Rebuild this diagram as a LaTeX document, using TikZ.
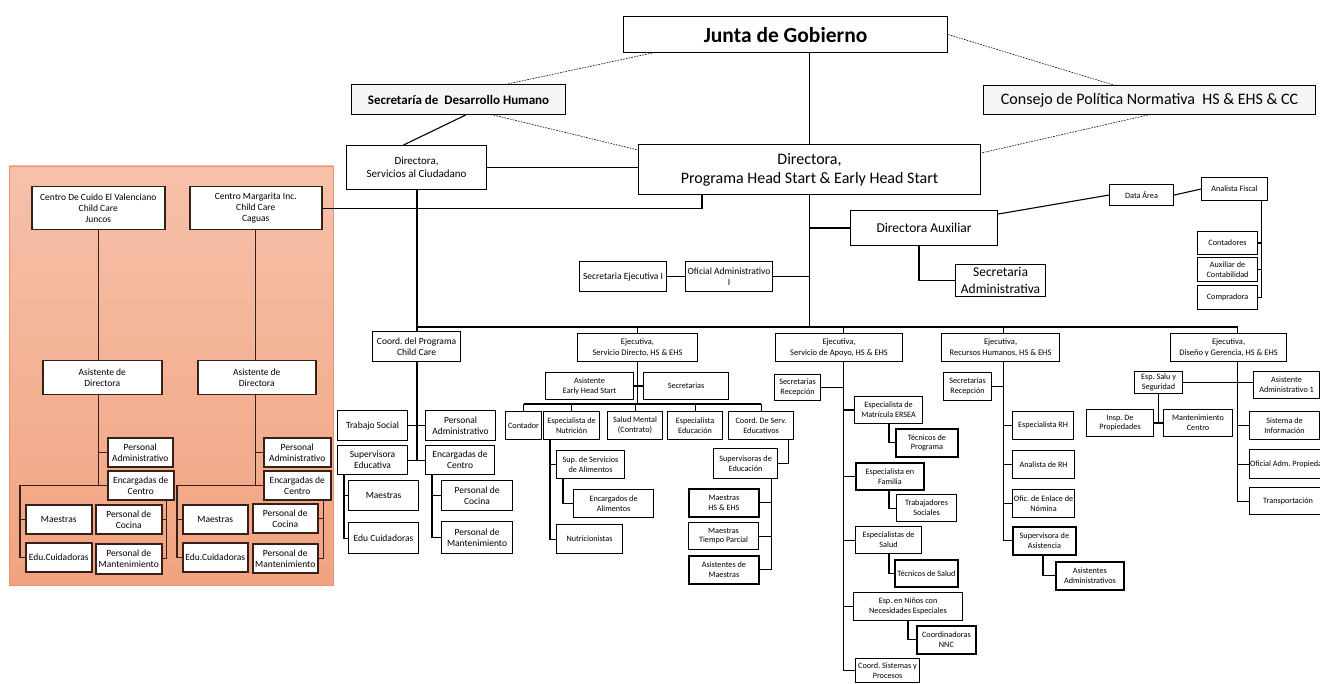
\documentclass[tikz,border=0pt]{standalone}
\usepackage{fontspec}
\setmainfont{Carlito}
\usetikzlibrary{calc}

\definecolor{panelTop}{RGB}{246,193,170}
\definecolor{panelBot}{RGB}{241,163,128}
\definecolor{panelRim}{RGB}{230,148,112}
\definecolor{cboxRim}{RGB}{55,32,24}

\tikzset{
  box/.style={draw=black, line width=1.1pt, fill=white, inner sep=0.5pt, align=center, anchor=north west},
  board/.style={fill=gray!8},
  heavy/.style={line width=1.8pt},
  cbox/.style={draw=cboxRim, line width=1.5pt},
  link/.style={line width=1.1pt},
  heavylink/.style={line width=1.9pt},
  clink/.style={draw=cboxRim, line width=1.2pt},
  dotlink/.style={line width=0.6pt, dash pattern=on 1.6pt off 1.2pt},
  ftitle/.style={font=\fontsize{21.5}{24}\selectfont\bfseries},
  fboard/.style={font=\fontsize{13}{15}\selectfont\bfseries},
  flarge/.style={font=\fontsize{16}{19}\selectfont},
  fsub/.style={font=\fontsize{13.5}{17}\selectfont},
  fsac/.style={font=\fontsize{11}{13}\selectfont},
  fmed/.style={font=\fontsize{9.5}{11}\selectfont},
  fexec/.style={font=\fontsize{8.5}{10.5}\selectfont},
  fsmall/.style={font=\fontsize{8.2}{9.8}\selectfont}
}

% box from its top left corner (x1,y1) to its bottom right corner (x2,y2)
\newcommand{\orgbox}[7][]{%
  \node[box,#1,minimum width={#5-#3},minimum height={#6-#4}] (#2) at (#3,#4) {#7};}

\begin{document}
\frenchspacing
\begin{tikzpicture}[x=1pt,y=-1pt]
  \useasboundingbox (0,0) rectangle (1320,684);
  \clip (0,0) rectangle (1320,684);
  \fill[white] (0,0) rectangle (1320,684);
  %
  % child care centres panel
  \shade[top color=panelTop, bottom color=panelBot] (9,166) rectangle (333,585);
  \draw[panelRim, line width=0.8pt] (9,166) rectangle (333,585);
  %
  % boards and direction
  \orgbox[ftitle]{jgob}{623}{16}{947}{52}{Junta de Gobierno}
  \orgbox[board,fboard]{sdh}{351}{84}{565}{114}{Secretaría de\ \ Desarrollo Humano}
  \orgbox[board,flarge]{cpn}{983}{85}{1315}{114}{Consejo de Política Normativa\ \ HS \& EHS \& CC}
  \orgbox[fsac]{sac}{346}{145}{486}{189}{Directora,\\Servicios al Ciudadano}
  \orgbox[flarge]{dhs}{638}{144}{980}{194}{Directora,\\Programa Head Start \& Early Head Start}
  \orgbox[fsub]{daux}{850}{210}{997}{245}{Directora Auxiliar}
  \orgbox[fsub]{sadm}{955}{264}{1045}{296}{Secretaria\\Administrativa}
  \orgbox[fsmall]{data}{1109}{184}{1173}{205}{Data Área}
  \orgbox[fsmall]{anfis}{1201}{177}{1267}{200}{Analista Fiscal}
  \orgbox[fsmall]{cont}{1197}{231}{1257}{254}{Contadores}
  \orgbox[fsmall]{auxc}{1197}{257}{1257}{281}{Auxiliar de\\Contabilidad}
  \orgbox[fsmall]{compr}{1197}{285}{1257}{309}{Compradora}
  \orgbox[fmed]{sej}{579}{261}{666}{291}{Secretaria Ejecutiva I}
  \orgbox[fmed]{ofadm}{685}{261}{772}{291}{Oficial Administrativo\\I}
  %
  % executives
  \orgbox[fmed]{coord}{372}{331}{460}{361}{Coord. del Programa\\Child Care}
  \orgbox[fexec]{esd}{577}{333}{697}{361}{Ejecutiva,\\Servicio Directo, HS \& EHS}
  \orgbox[fexec]{esa}{775}{333}{902}{361}{Ejecutiva,\\Servicio de Apoyo, HS \& EHS}
  \orgbox[fexec]{erh}{941}{333}{1059}{361}{Ejecutiva,\\Recursos Humanos, HS \& EHS}
  \orgbox[fexec]{edg}{1170}{333}{1286}{361}{Ejecutiva,\\Diseño y Gerencia, HS \& EHS}
  %
  % child care programme
  \orgbox[fmed]{tsoc}{337}{410}{407}{440}{Trabajo Social}
  \orgbox[fmed]{padm}{425}{410}{495}{440}{Personal\\Administrativo}
  \orgbox[fmed]{supe}{337}{445}{407}{474}{Supervisora\\Educativa}
  \orgbox[fmed]{encc}{425}{445}{494}{474}{Encargadas de\\Centro}
  \orgbox[fmed]{maes}{348}{480}{418}{510}{Maestras}
  \orgbox[fmed]{educ}{348}{522}{418}{553}{Edu Cuidadoras}
  \orgbox[fmed]{pcoc}{441}{480}{512}{510}{Personal de\\Cocina}
  \orgbox[fmed]{pman}{441}{521}{512}{553}{Personal de\\Mantenimiento}
  %
  % servicio directo
  \orgbox[fsmall]{aehs}{545}{372}{633}{399}{Asistente\\Early Head Start}
  \orgbox[fsmall]{secr}{643}{372}{728}{399}{Secretarias}
  \orgbox[fsmall]{cont2}{505}{411}{541}{439}{Contador}
  \orgbox[fsmall]{enut}{543}{411}{599}{439}{Especialista de\\Nutrición}
  \orgbox[fsmall]{smen}{607}{411}{662}{439}{Salud Mental\\(Contrato)}
  \orgbox[fsmall]{eedu}{667}{411}{722}{439}{Especialista\\Educación}
  \orgbox[fsmall]{cse}{728}{411}{793}{439}{Coord. De Serv.\\Educativos}
  \orgbox[fsmall]{ssa}{556}{450}{624}{478}{Sup. de Servicios\\de Alimentos}
  \orgbox[fsmall]{eali}{573}{489}{653}{517}{Encargados de\\Alimentos}
  \orgbox[fsmall]{nutr}{556}{524}{622}{553}{Nutricionistas}
  \orgbox[fsmall]{supd}{713}{448}{777}{478}{Supervisoras de\\Educación}
  \orgbox[fsmall,heavy]{mhs}{688}{488}{758}{516}{Maestras\\HS \& EHS}
  \orgbox[fsmall]{mtp}{688}{522}{758}{549}{Maestras\\Tiempo Parcial}
  \orgbox[fsmall,heavy]{amae}{688}{555}{758}{583}{Asistentes de\\Maestras}
  %
  % servicio de apoyo
  \orgbox[fsmall]{srec}{774}{374}{820}{400}{Secretarias\\Recepción}
  \orgbox[fsmall]{ersea}{854}{396}{922}{423}{Especialista de\\Matrícula ERSEA}
  \orgbox[fsmall,heavy]{tprog}{895}{428}{957}{456}{Técnicos de\\Programa}
  \orgbox[fsmall,heavy]{efam}{855}{462}{923}{489}{Especialista en\\Familia}
  \orgbox[fsmall]{tsoc2}{896}{494}{956}{521}{Trabajadores\\Sociales}
  \orgbox[fsmall]{esal}{855}{526}{921}{553}{Especialistas de\\Salud}
  \orgbox[fsmall,heavy]{tsal}{894}{559}{957}{586}{Técnicos de Salud}
  \orgbox[fsmall]{enne}{853}{592}{962}{620}{Esp. en Niños con\\Necesidades Especiales}
  \orgbox[fsmall,heavy]{cnnc}{916}{625}{975}{653}{Coordinadoras\\NNC}
  \orgbox[fsmall]{csis}{855}{658}{919}{682}{Coord. Sistemas y\\Procesos}
  %
  % recursos humanos
  \orgbox[fsmall]{srec2}{943}{372}{991}{400}{Secretarias\\Recepción}
  \orgbox[fsmall]{erhs}{1012}{411}{1073}{439}{Especialista RH}
  \orgbox[fsmall]{anrh}{1012}{450}{1074}{478}{Analista de RH}
  \orgbox[fsmall]{oenl}{1012}{489}{1074}{517}{Ofic. de Enlace de\\Nómina}
  \orgbox[fsmall,heavy]{supa}{1012}{526}{1075}{554}{Supervisora de\\Asistencia}
  \orgbox[fsmall,heavy]{asad}{1055}{561}{1123}{589}{Asistentes\\Administrativos}
  %
  % diseño y gerencia
  \orgbox[fsmall]{esys}{1134}{371}{1182}{393}{Esp. Salu y\\Seguridad}
  \orgbox[fsmall]{aad1}{1253}{371}{1319}{398}{Asistente\\Administrativo 1}
  \orgbox[fsmall]{iprop}{1086}{409}{1153}{436}{Insp. De\\Propiedades}
  \orgbox[fsmall]{mcen}{1163}{409}{1232}{436}{Mantenimiento\\Centro}
  \orgbox[fsmall]{sinf}{1249}{411}{1319}{439}{Sistema de\\Información}
  \orgbox[fsmall]{oadm}{1249}{449}{1326}{478}{Oficial Adm. Propiedad}
  \orgbox[fsmall]{trans}{1249}{487}{1326}{514}{Transportación}
  %
  % centres
  \orgbox[cbox,fmed]{cval}{31}{186}{164}{229}{Centro De Cuido El Valenciano\\Child Care\\Juncos}
  \orgbox[cbox,fmed]{cmarg}{189}{186}{321}{229}{Centro Margarita Inc.\\Child Care\\Caguas}
  \orgbox[cbox,fmed]{asd1}{42}{360}{161}{394}{Asistente de\\Directora}
  \orgbox[cbox,fmed]{asd2}{197}{360}{315}{394}{Asistente de\\Directora}
  \orgbox[cbox,fmed]{padm1}{107}{437}{172}{466}{Personal\\Administrativo}
  \orgbox[cbox,fmed]{encc1}{107}{470}{173}{499}{Encargadas de\\Centro}
  \orgbox[cbox,fmed]{maes1}{25}{504}{91}{533}{Maestras}
  \orgbox[cbox,fmed]{pcoc1}{95}{504}{161}{533}{Personal de\\Cocina}
  \orgbox[cbox,fmed]{educ1}{25}{542}{91}{571}{Edu.Cuidadoras}
  \orgbox[cbox,fmed]{pman1}{95}{543}{161}{573}{Personal de\\Mantenimiento}
  \orgbox[cbox,fmed]{padm2}{263}{437}{330}{466}{Personal\\Administrativo}
  \orgbox[cbox,fmed]{encc2}{263}{470}{330}{499}{Encargadas de\\Centro}
  \orgbox[cbox,fmed]{maes2}{182}{504}{247}{533}{Maestras}
  \orgbox[cbox,fmed]{pcoc2}{252}{503}{317}{532}{Personal de\\Cocina}
  \orgbox[cbox,fmed]{educ2}{182}{542}{247}{571}{Edu.Cuidadoras}
  \orgbox[cbox,fmed]{pman2}{252}{543}{317}{572}{Personal de\\Mantenimiento}
  %
  % top links
  \draw[link] (dhs.north) -- (dhs.north |- jgob.south);
  \draw[dotlink] ($(jgob.south west)+(29,0)$) -- ($(sdh.north)+(49,0)$);
  \draw[dotlink] (jgob.east) -- ($(cpn.north)+(-36,0)$);
  \draw[dotlink] ($(sdh.south)+(35,0)$) -- ($(dhs.north west)+(0,6)$);
  \draw[dotlink] ($(cpn.south)+(-2,0)$) -- ($(dhs.north east)+(0,9)$);
  \draw[link] ($(sdh.south)+(7,0)$) -- ($(sac.north)+(-13,0)$);
  \draw[link] (sac.east) -- (sac.east -| dhs.west);
  \draw[link] ($(dhs.south west)+(64,0)$) |- (cmarg.east);
  %
  \coordinate (bus) at (0,327);
  \draw[link] (dhs.south) -- (dhs.south |- bus);
  \draw[link] (dhs.south |- daux.west) -- (daux.west);
  \draw[link] ($(daux.south west)+(69,0)$) |- (sadm.west);
  \draw[link] ($(daux.east)+(0,-14)$) -- (data.west);
  \draw[link] (data.east) -- (anfis.west);
  \coordinate (afv) at ($(anfis.south east)+(-7,0)$);
  \draw[link] (afv) |- (compr.east);
  \foreach \n in {cont,auxc} \draw[link] (\n.east) -- (\n.east -| afv);
  \draw[link] (sej.east) -- (ofadm.west);
  \draw[link] (ofadm.east) -- (ofadm.east -| dhs.south);
  %
  % bus to executives
  \coordinate (av) at ($(esa.south)+(4,0)$);
  \coordinate (rv) at ($(erh.south)+(3,0)$);
  \coordinate (gv) at ($(edg.south)+(9,0)$);
  \draw[heavylink] (sac.south) -- (sac.south |- coord.north);
  \draw[link] (sac.south |- bus) -- (gv |- bus);
  \draw[link] (esd.north) -- (esd.north |- bus);
  \foreach \v/\n in {av/esa,rv/erh,gv/edg} \draw[link] (\v |- bus) -- (\v |- \n.north);
  %
  % child care programme links
  \draw[heavylink] (coord.south) -- (coord.south |- supe.east);
  \draw[link] (tsoc.east) -- (padm.west);
  \draw[link] (supe.east) -- (encc.west);
  \coordinate (sv) at ($(supe.south west)+(7,0)$);
  \draw[link] (sv) |- (educ.west);
  \draw[link] (sv |- maes.west) -- (maes.west);
  \coordinate (ev) at ($(encc.south west)+(7,0)$);
  \draw[link] (ev) |- (pman.west);
  \draw[link] (ev |- pcoc.west) -- (pcoc.west);
  %
  % servicio directo links
  \coordinate (bus2) at (0,404);
  \draw[link] (esd.south) -- (esd.south |- bus2);
  \draw[link] (aehs.east) -- (secr.west);
  \draw[link] (cont2.north |- bus2) -- (cse.north |- bus2);
  \foreach \n in {cont2,enut,smen,eedu,cse} \draw[link] (\n.north) -- (\n.north |- bus2);
  \coordinate (nv) at ($(enut.south west)+(7,0)$);
  \draw[link] (nv) |- (nutr.west);
  \draw[link] (nv |- ssa.west) -- (ssa.west);
  \draw[link] ($(ssa.south west)+(7,0)$) |- (eali.west);
  \draw[link] ($(cse.south east)+(-6,0)$) |- (supd.east);
  \coordinate (dv) at ($(supd.south east)+(-7,0)$);
  \draw[link] (dv) |- (amae.east);
  \foreach \n in {mhs,mtp} \draw[link] (\n.east) -- (\n.east -| dv);
  %
  % servicio de apoyo links
  \draw[link] (av) |- (csis.west);
  \draw[link] (srec.east) -- (srec.east -| av);
  \foreach \n in {ersea,efam,esal,enne} \draw[link] (av |- \n.west) -- (\n.west);
  \draw[link] ($(ersea.south west)+(35,0)$) |- (tprog.west);
  \draw[link] ($(efam.south west)+(34,0)$) |- (tsoc2.west);
  \draw[link] ($(esal.south west)+(34,0)$) |- (tsal.west);
  \draw[link] ($(enne.south west)+(55,0)$) |- (cnnc.west);
  %
  % recursos humanos links
  \draw[link] (rv) |- (supa.west);
  \draw[link] (srec2.east) -- (srec2.east -| rv);
  \foreach \n in {erhs,anrh,oenl} \draw[link] (rv |- \n.west) -- (\n.west);
  \draw[link] ($(supa.south west)+(31,0)$) |- (asad.west);
  %
  % diseño y gerencia links
  \draw[link] (gv) |- (trans.west);
  \draw[link] (esys.east) -- (esys.east -| aad1.west);
  \foreach \n in {sinf,oadm} \draw[link] (gv |- \n.west) -- (\n.west);
  \draw[link] (esys.south) -- (esys.south |- iprop.east);
  \draw[link] (iprop.east) -- (mcen.west);
  %
  % centre links
  \foreach \g/\c in {1/cval,2/cmarg} {
    \coordinate (lv) at (\c.south |- asd\g.south);
    \coordinate (lx) at ($(maes\g.west)+(-5,0)$);
    \coordinate (rx) at ($(encc\g.south east)+(-8,0)$);
    \draw[clink] (\c.south) -- (\c.south |- asd\g.north);
    \draw[clink] (lv) -- (lv |- encc\g.west) -- (encc\g.west);
    \draw[clink] (lv |- padm\g.west) -- (padm\g.west);
    \draw[clink] (lv |- encc\g.west) -- (lx |- encc\g.west) |- (educ\g.west);
    \draw[clink] (lx |- maes\g.west) -- (maes\g.west);
    \draw[clink] (rx) |- (pman\g.east);
    \draw[clink] (pcoc\g.east) -- (pcoc\g.east -| rx);
  }
\end{tikzpicture}
\end{document}
